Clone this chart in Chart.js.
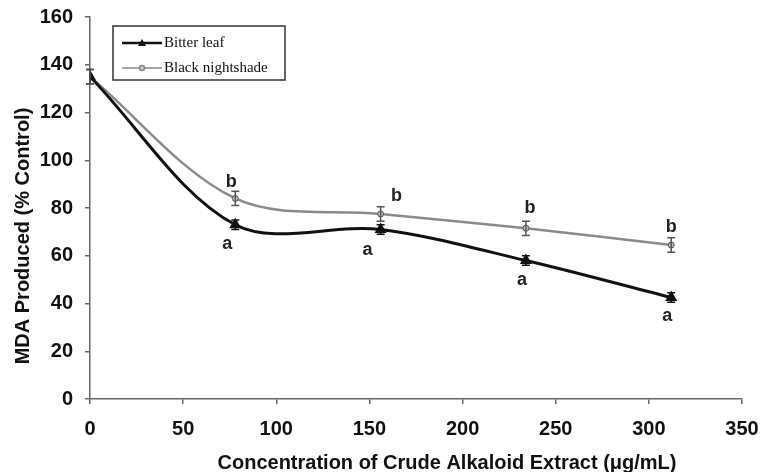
<!DOCTYPE html>
<html>
<head>
<meta charset="utf-8">
<script src="https://cdn.jsdelivr.net/npm/chart.js@4/dist/chart.umd.min.js"></script>
<style>
  html, body { margin: 0; padding: 0; background: #fff; overflow: hidden; }
  canvas { display: block; }
</style>
</head>
<body>
<canvas id="mdaChart" width="761" height="472"></canvas>
<script>
// concentrations (ug/mL)
const concentrations = [0, 78, 156, 234, 312];
const bitterLeaf = [135, 73, 71, 58, 42.5];
const bitterErr = [3, 2, 2, 2, 2];
const blackNightshade = [135, 84, 77.5, 71.5, 64.5];
const nightshadeErr = [3, 3, 3, 3, 3];
const bitterLetters = ["", "a", "a", "a", "a"];
const nightshadeLetters = ["", "b", "b", "b", "b"];
const xTicks = [0, 50, 100, 150, 200, 250, 300, 350];
const yTicks = [0, 20, 40, 60, 80, 100, 120, 140, 160];

function toPoints(xs, ys) {
  return xs.map((x, i) => ({ x: x, y: ys[i] }));
}

const errorBarsPlugin = {
  id: "errorBars",
  afterDatasetsDraw(chart) {
    const ctx = chart.ctx;
    const yScale = chart.scales.y;
    const errs = [bitterErr, nightshadeErr];
    chart.data.datasets.forEach((ds, di) => {
      const meta = chart.getDatasetMeta(di);
      ctx.save();
      ctx.strokeStyle = di === 0 ? "#111" : "#555";
      ctx.lineWidth = 1.5;
      meta.data.forEach((pt, i) => {
        const v = ds.data[i].y;
        const top = yScale.getPixelForValue(v + errs[di][i]);
        const bot = yScale.getPixelForValue(v - errs[di][i]);
        ctx.beginPath();
        ctx.moveTo(pt.x, top); ctx.lineTo(pt.x, bot);
        ctx.moveTo(pt.x - 4, top); ctx.lineTo(pt.x + 4, top);
        ctx.moveTo(pt.x - 4, bot); ctx.lineTo(pt.x + 4, bot);
        ctx.stroke();
      });
      ctx.restore();
    });
  }
};

const lettersPlugin = {
  id: "letters",
  afterDatasetsDraw(chart) {
    const ctx = chart.ctx;
    ctx.save();
    ctx.font = "bold 18px 'Liberation Sans', Arial, sans-serif";
    ctx.fillStyle = "#222";
    ctx.textAlign = "center";
    ctx.textBaseline = "middle";
    const aOff = [[0, 0], [-8, 19], [-13, 21], [-4, 20], [-4, 18]];
    const bOff = [[0, 0], [-4, -16], [16, -18], [4, -20], [0, -18]];
    const m0 = chart.getDatasetMeta(0);
    const m1 = chart.getDatasetMeta(1);
    bitterLetters.forEach((t, i) => {
      if (!t) return;
      ctx.fillText(t, m0.data[i].x + aOff[i][0], m0.data[i].y + aOff[i][1]);
    });
    nightshadeLetters.forEach((t, i) => {
      if (!t) return;
      ctx.fillText(t, m1.data[i].x + bOff[i][0], m1.data[i].y + bOff[i][1]);
    });
    ctx.restore();
  }
};

const titlesAndLegendPlugin = {
  id: "titlesLegend",
  afterDraw(chart) {
    const ctx = chart.ctx;
    ctx.save();
    ctx.fillStyle = "#111";
    ctx.font = "bold 20px 'Liberation Sans', Arial, sans-serif";
    ctx.textAlign = "center";
    ctx.textBaseline = "middle";
    ctx.fillText("Concentration of Crude Alkaloid Extract (\u03bcg/mL)", 447, 463);
    ctx.save();
    ctx.translate(23, 236);
    ctx.rotate(-Math.PI / 2);
    ctx.fillText("MDA Produced (% Control)", 0, 0);
    ctx.restore();

    // legend box
    ctx.fillStyle = "#fff";
    ctx.fillRect(113, 26, 172, 54);
    ctx.strokeStyle = "#333";
    ctx.lineWidth = 1.5;
    ctx.strokeRect(113, 26, 172, 54);

    ctx.lineWidth = 2.5;
    ctx.strokeStyle = "#111";
    ctx.beginPath(); ctx.moveTo(122, 43); ctx.lineTo(162, 43); ctx.stroke();
    ctx.fillStyle = "#111";
    ctx.beginPath(); ctx.moveTo(142, 39); ctx.lineTo(146, 46); ctx.lineTo(138, 46); ctx.closePath(); ctx.fill();

    ctx.lineWidth = 1.5;
    ctx.strokeStyle = "#888";
    ctx.beginPath(); ctx.moveTo(122, 68); ctx.lineTo(162, 68); ctx.stroke();
    ctx.fillStyle = "#ccc";
    ctx.beginPath(); ctx.arc(142, 68, 2.5, 0, Math.PI * 2); ctx.fill(); ctx.stroke();

    ctx.fillStyle = "#111";
    ctx.font = "15px 'Liberation Serif', 'Times New Roman', serif";
    ctx.textAlign = "left";
    ctx.fillText("Bitter leaf", 164, 43);
    ctx.fillText("Black nightshade", 164, 68);
    ctx.restore();
  }
};

const ctx = document.getElementById("mdaChart").getContext("2d");
const chart = new Chart(ctx, {
  type: "scatter",
  data: {
    datasets: [
      {
        label: "Bitter leaf",
        data: toPoints(concentrations, bitterLeaf),
        showLine: true,
        borderColor: "#111",
        backgroundColor: "#111",
        borderWidth: 3,
        tension: 0.33,
        pointStyle: "triangle",
        pointRadius: 4,
        order: 1
      },
      {
        label: "Black nightshade",
        data: toPoints(concentrations, blackNightshade),
        showLine: true,
        borderColor: "#8a8a8a",
        backgroundColor: "#bbb",
        borderWidth: 2.5,
        tension: 0.33,
        pointStyle: "circle",
        pointRadius: 3,
        pointBorderColor: "#555",
        pointBorderWidth: 1,
        order: 2
      }
    ]
  },
  options: {
    responsive: false,
    animation: false,
    layout: { padding: { left: 0, right: 19, top: 17, bottom: 0 } },
    plugins: {
      legend: { display: false },
      tooltip: { enabled: false }
    },
    scales: {
      x: {
        type: "linear",
        min: 0,
        max: 350,
        afterFit: (scale) => {
          scale.height = 73;
          scale.paddingLeft = 0;
          scale.paddingRight = 0;
        },
        afterBuildTicks: (scale) => { scale.ticks = xTicks.map(v => ({ value: v })); },
        grid: { drawOnChartArea: false, drawTicks: true, tickLength: 5, color: "#666", lineWidth: 1.5 },
        border: { color: "#666", width: 1.5 },
        ticks: {
          color: "#111",
          padding: 13,
          maxRotation: 0,
          font: { family: "'Liberation Sans', Arial, sans-serif", size: 20, weight: "bold" }
        }
      },
      y: {
        min: 0,
        max: 160,
        afterFit: (scale) => {
          scale.width = 90;
          scale.paddingTop = 0;
          scale.paddingBottom = 0;
        },
        afterBuildTicks: (scale) => { scale.ticks = yTicks.map(v => ({ value: v })); },
        grid: { drawOnChartArea: false, drawTicks: true, tickLength: 5, color: "#666", lineWidth: 1.5 },
        border: { color: "#666", width: 1.5 },
        ticks: {
          color: "#111",
          padding: 12,
          font: { family: "'Liberation Sans', Arial, sans-serif", size: 20, weight: "bold" }
        }
      }
    }
  },
  plugins: [errorBarsPlugin, lettersPlugin, titlesAndLegendPlugin]
});
</script>
</body>
</html>
